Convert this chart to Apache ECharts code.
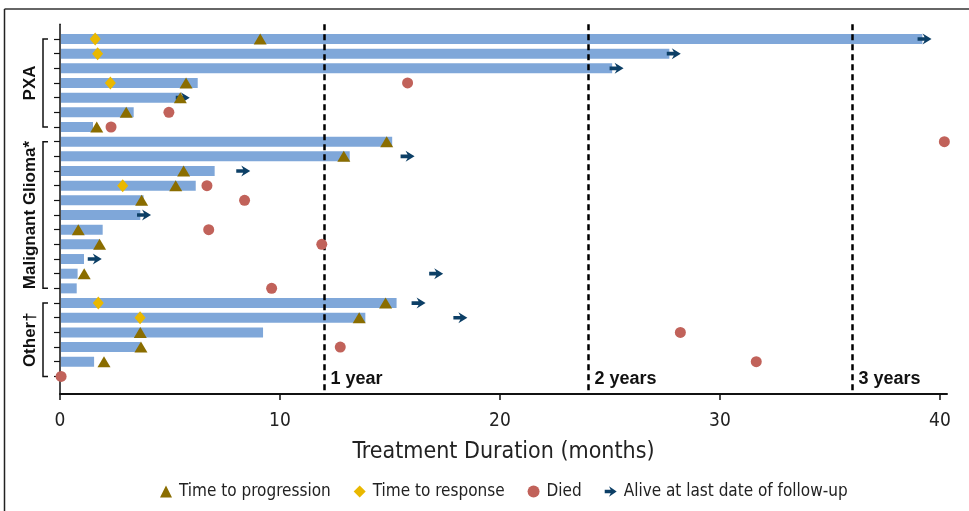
<!DOCTYPE html>
<html>
<head>
<meta charset="utf-8">
<script src="https://cdn.jsdelivr.net/npm/echarts@6/dist/echarts.min.js"></script>
<style>
  html, body { margin: 0; padding: 0; background: #fff; }
  #chart { width: 969px; height: 511px; }
</style>
</head>
<body>
<div id="chart"></div>
<script>
// ---- data (months) ----
const rows = [1,2,3,4,5,6,7,8,9,10,11,12,13,14,15,16,17,18,19,20,21,22,23,24];
const duration    = [39.2, 27.7, 25.1, 6.26, 5.47, 3.35, 1.5, 15.1, 13.17, 7.03, 6.17, 3.8, 3.65, 1.94, 1.8, 1.09, 0.8, 0.76, 15.3, 13.88, 9.23, 3.65, 1.55, 0];
const progression = [9.1, null, null, 5.73, 5.47, 3.01, 1.67, 14.85, 12.9, 5.62, 5.26, 3.71, null, 0.83, 1.8, null, 1.1, null, 14.8, 13.6, 3.65, 3.68, 2.0, null];
const response    = [1.6, 1.71, null, 2.29, null, null, null, null, null, null, 2.85, null, null, null, null, null, null, null, 1.74, 3.64, null, null, null, null];
const died        = [null, null, null, 15.8, null, 4.95, 2.32, 40.2, null, null, 6.68, 8.39, null, 6.76, 11.9, null, null, 9.62, null, null, 28.2, 12.74, 31.65, 0.05];
const alive       = [39.3, 27.9, 25.3, null, 5.58, null, null, null, 15.8, 8.33, null, null, 3.82, null, null, 1.58, 17.1, null, 16.3, 18.2, null, null, null, null];
const groupNames  = ['PXA', 'Malignant Glioma*', 'Other\u2020'];
const groupStart  = [1, 8, 19];
const groupEnd    = [7, 18, 24];
const yearMarks   = [12, 24, 36];
const yearLabels  = ['1 year', '2 years', '3 years'];
const xTicks      = [0, 10, 20, 30, 40];
const xTitle      = 'Treatment Duration (months)';
const legendNames = ['Time to progression', 'Time to response', 'Died', 'Alive at last date of follow-up'];

const NARROW = "'Liberation Sans Narrow', 'DejaVu Sans Condensed', 'Liberation Sans', sans-serif";
const BOLD = "'Liberation Sans', Arial, sans-serif";
const arrowPath = 'path://M0,4 L7,4 L5,0 L14,6 L5,12 L7,8 L0,8 Z';

const pts = arr => arr.map((v, i) => v == null ? null : [v, rows[i]]).filter(d => d);

const chart = echarts.init(document.getElementById('chart'), null, { renderer: 'canvas' });
chart.setOption({
  animation: false,
  backgroundColor: '#fff',
  grid: { left: 60, right: 22, top: 24.3, bottom: 117 },
  xAxis: {
    type: 'value', min: 0, max: 40.32, position: 'bottom',
    splitLine: { show: false },
    axisLine: { onZero: false, lineStyle: { color: '#111', width: 2 } },
    axisTick: { length: 6, lineStyle: { color: '#111', width: 1.5 }, customValues: xTicks },
    axisLabel: { customValues: xTicks, color: '#222', fontFamily: NARROW, fontSize: 19, margin: 18 },
    name: xTitle, nameLocation: 'middle', nameGap: 47,
    nameTextStyle: { color: '#222', fontFamily: NARROW, fontSize: 23 }
  },
  yAxis: {
    type: 'value', inverse: true, min: 0, max: 25.2, position: 'left',
    splitLine: { show: false },
    axisLine: { onZero: false, lineStyle: { color: '#111', width: 1.5 } },
    axisTick: { length: 6, lineStyle: { color: '#111', width: 1.2 }, customValues: rows },
    axisLabel: { show: false }
  },
  legend: {
    data: legendNames.map(n => ({ name: n })),
    left: 155, top: 478,
    itemWidth: 12, itemHeight: 12, itemGap: 23,
    textStyle: { color: '#222', fontFamily: NARROW, fontSize: 17, padding: [0, 0, 0, 2] }
  },
  graphic: [
    { type: 'line', shape: { x1: 4.5, y1: 9, x2: 969, y2: 9 }, style: { stroke: '#333', lineWidth: 1.5 } },
    { type: 'line', shape: { x1: 4.5, y1: 9, x2: 4.5, y2: 511 }, style: { stroke: '#222', lineWidth: 1.5 } }
  ],
  series: [
    {
      type: 'custom', name: 'bars', z: 2,
      data: rows.map((r, i) => [duration[i], r]),
      encode: { x: 0, y: 1 },
      renderItem: (params, api) => {
        const a = api.coord([0, api.value(1)]);
        const b = api.coord([api.value(0), api.value(1)]);
        return { type: 'rect', shape: { x: a[0] + 1, y: a[1] - 5, width: Math.max(0, b[0] - a[0] - 1), height: 10 },
                 style: { fill: '#7fa7d9' } };
      }
    },
    {
      type: 'custom', name: 'groups', z: 3,
      data: groupNames.map((n, i) => [groupStart[i], groupEnd[i], i]),
      encode: { y: [0, 1] },
      renderItem: (params, api) => {
        const t = api.coord([0, api.value(0)]);
        const b = api.coord([0, api.value(1)]);
        const x = t[0] - 17;
        const st = { stroke: '#111', lineWidth: 1.5, fill: null };
        return {
          type: 'group', children: [
            { type: 'polyline', shape: { points: [[x + 5, t[1]], [x, t[1]], [x, b[1]], [x + 5, b[1]]] }, style: st },
            { type: 'text', x: x - 13, y: (t[1] + b[1]) / 2, rotation: Math.PI / 2,
              style: { text: groupNames[api.value(2)], fontFamily: BOLD, fontWeight: 'bold', fontSize: 17,
                       fill: '#111', align: 'center', verticalAlign: 'middle' } }
          ]
        };
      }
    },
    {
      type: 'scatter', name: legendNames[3], z: 4,
      symbol: arrowPath, symbolSize: [14, 11],
      itemStyle: { color: '#0c3f66', opacity: 1 },
      data: pts(alive)
    },
    {
      type: 'scatter', name: legendNames[2], z: 5,
      symbol: 'circle', symbolSize: 11,
      itemStyle: { color: '#c1625a', opacity: 1 },
      data: pts(died)
    },
    {
      type: 'scatter', name: legendNames[0], z: 6,
      symbol: 'triangle', symbolSize: [13, 11],
      itemStyle: { color: '#8a6d00', opacity: 1 },
      data: pts(progression)
    },
    {
      type: 'scatter', name: legendNames[1], z: 7,
      symbol: 'diamond', symbolSize: [11, 13],
      itemStyle: { color: '#e9b800', opacity: 1 },
      data: pts(response)
    },
    {
      type: 'scatter', name: 'years', z: 8,
      symbol: 'circle', symbolSize: 1,
      itemStyle: { color: 'rgba(0,0,0,0)', opacity: 1 },
      data: yearMarks.map((m, i) => [m, 24.2, yearLabels[i]]),
      label: { show: true, position: 'right', distance: 6, formatter: p => p.data[2],
               fontFamily: BOLD, fontWeight: 'bold', fontSize: 18, color: '#111', opacity: 1 },
      markLine: {
        silent: true, symbol: 'none', label: { show: false },
        lineStyle: { color: '#000', type: [6, 4], width: 2.5 },
        data: yearMarks.map(m => ({ xAxis: m }))
      }
    }
  ]
});
</script>
</body>
</html>
